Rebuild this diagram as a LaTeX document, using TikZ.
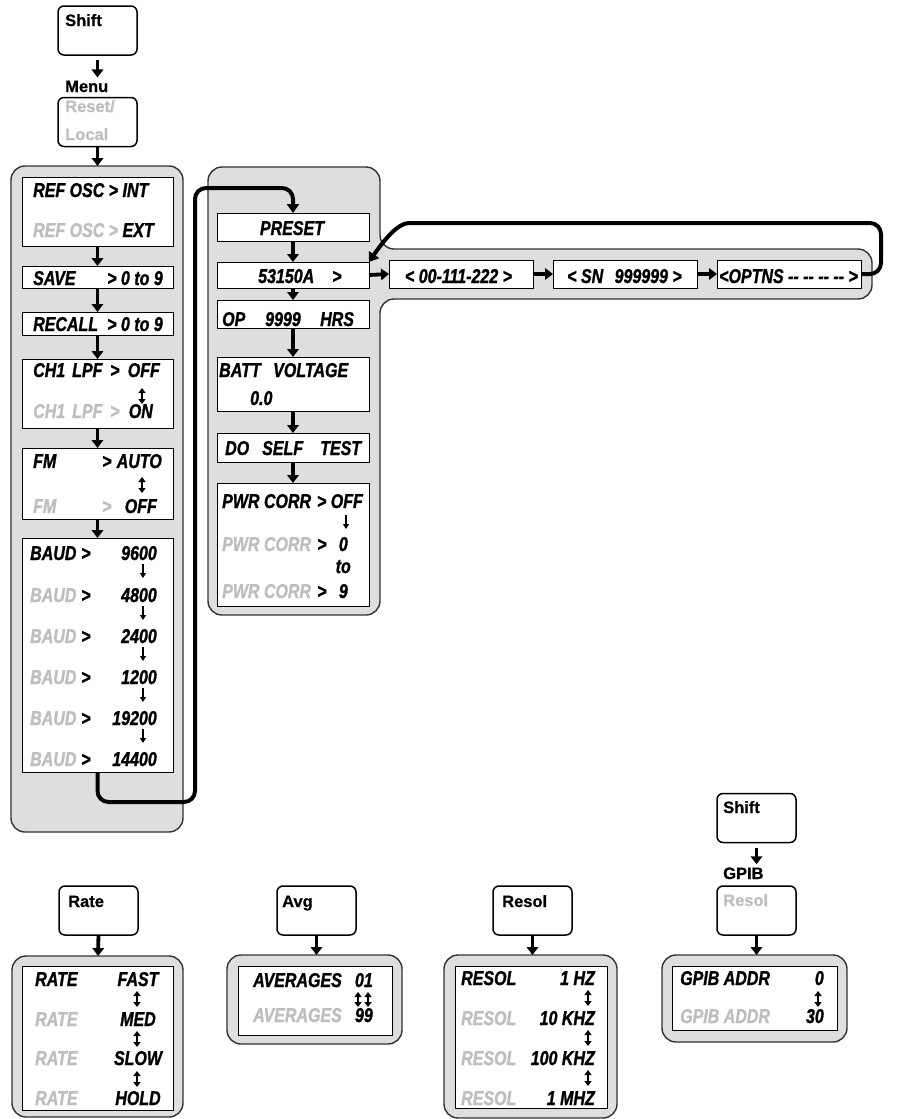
\documentclass[tikz,border=0pt]{standalone}
\usepackage{fontspec}
\setmainfont{Liberation Sans}
\newfontfamily\lcdf[FakeStretch=0.8, FakeBold=1.2]{Liberation Sans}
\newfontfamily\keyf[FakeBold=0.6]{Liberation Sans}
\usetikzlibrary{arrows.meta}
\definecolor{panelgray}{RGB}{221,222,224}
\definecolor{dimtext}{RGB}{190,190,190}
\definecolor{panelline}{RGB}{50,50,50}
\begin{document}
\begin{tikzpicture}[x=1pt,y=-1pt,
  panel/.style={draw=panelline, fill=panelgray, line width=1.4pt, rounded corners=14pt},
  lbox/.style={draw, fill=white, line width=1pt, inner sep=0pt, outer sep=0pt, rectangle},
  keybox/.style={draw, fill=white, line width=1.5pt, rounded corners=6pt, inner sep=0pt, outer sep=0pt, minimum width=79pt, minimum height=49pt},
  lcd/.style={font=\lcdf\bfseries\itshape\fontsize{20}{22}\selectfont, inner sep=0pt},
  dim/.style={lcd, text=dimtext},
  keyt/.style={font=\keyf\bfseries\fontsize{16.5}{18}\selectfont, inner sep=0pt},
  bigarr/.style={line width=3.8pt, -{Triangle[width=11.5pt,length=8pt]}},
  tharr/.style={line width=1.4pt, -{Triangle[width=6pt,length=5pt]}},
  dbarr/.style={line width=1.6pt, {Triangle[width=7pt,length=5pt]}-{Triangle[width=7pt,length=5pt]}},
  loopln/.style={line width=4pt, rounded corners=11pt, -{Triangle[width=12pt,length=9pt]}}
]
\useasboundingbox (0,0) rectangle (910,1119);

% ---------- panels ----------
\draw[panel] (11,166) rectangle (183,832);
\draw[panel] (208,167) -- (380,167) -- (380,249) -- (872,249) -- (872,299) -- (380,299) -- (380,615) -- (208,615) -- cycle;
\draw[panel] (12,956) rectangle (183,1117);
\draw[panel] (227,955) rectangle (402,1044);
\draw[panel] (444,955) rectangle (617,1118);
\draw[panel] (662,955) rectangle (847,1042);

\coordinate (lpTop) at (97.5,166);
\coordinate (rateTop) at (98,956);
\coordinate (avgTop) at (316.5,955);
\coordinate (resolTop) at (532.5,955);
\coordinate (gpibTop) at (756.5,955);

% ---------- key boxes ----------
\node[keybox] (shiftA) at (97.5,30.5) {};
\node[keyt, anchor=base west] (shiftAt) at (65,26) {Shift};
\node[keyt, anchor=base west] (menu) at (65,92) {Menu};
\node[keybox] (resetA) at (97.5,122) {};
\node[keyt, text=dimtext, anchor=base west] (resetAt) at (65,112) {Reset/};
\node[keyt, text=dimtext, anchor=base west] (resetAt2) at (65,140) {Local};

\node[keybox] (rateK) at (98.5,910.5) {};
\node[keyt, anchor=base west] (rateKt) at (68,907) {Rate};
\node[keybox] (avgK) at (316.5,910.5) {};
\node[keyt, anchor=base west] (avgKt) at (282,907) {Avg};
\node[keybox] (resolK) at (532.5,910.5) {};
\node[keyt, anchor=base west] (resolKt) at (502,907) {Resol};
\node[keybox] (shiftB) at (756.5,818) {};
\node[keyt, anchor=base west] (shiftBt) at (723,813) {Shift};
\node[keyt, anchor=base west] (gpibT) at (723,879) {GPIB};
\node[keybox] (resolB) at (756.5,910.5) {};
\node[keyt, text=dimtext, anchor=base west] (resolBt) at (723,906) {Resol};

% ---------- left panel boxes ----------
\node[lbox, minimum width=151pt, minimum height=69pt] (ref) at (97.5,211.5) {};
\node[lbox, minimum width=151pt, minimum height=22pt] (save) at (97.5,277) {};
\node[lbox, minimum width=151pt, minimum height=23pt] (recall) at (97.5,323.5) {};
\node[lbox, minimum width=151pt, minimum height=69pt] (ch1) at (97.5,393.5) {};
\node[lbox, minimum width=151pt, minimum height=71pt] (fm) at (97.5,483.5) {};
\node[lbox, minimum width=151pt, minimum height=234pt] (baud) at (97.5,655) {};

% ---------- right panel boxes ----------
\node[lbox, minimum width=152pt, minimum height=28pt] (preset) at (293,227) {};
\node[lbox, minimum width=152pt, minimum height=26pt] (n53) at (293,275) {};
\node[lbox, minimum width=152pt, minimum height=28pt] (op) at (293,314) {};
\node[lbox, minimum width=152pt, minimum height=54pt] (batt) at (293,384) {};
\node[lbox, minimum width=152pt, minimum height=29pt] (self) at (293,447.5) {};
\node[lbox, minimum width=152pt, minimum height=123pt] (pwr) at (293,544.5) {};
\node[lbox, minimum width=144pt, minimum height=28pt] (b00) at (461,274) {};
\node[lbox, minimum width=144pt, minimum height=28pt] (sn) at (625,274) {};
\node[lbox, minimum width=144pt, minimum height=28pt] (optns) at (789,274) {};

% ---------- bottom inner boxes ----------
\node[lbox, minimum width=151pt, minimum height=144pt] (rate) at (97.5,1038) {};
\node[lbox, minimum width=154pt, minimum height=69pt] (avg) at (315,1000.5) {};
\node[lbox, minimum width=152pt, minimum height=142pt] (resol) at (531,1037) {};
\node[lbox, minimum width=165pt, minimum height=64pt] (gpib) at (754.5,998) {};

% ---------- connectors ----------
\draw[bigarr, shorten <=5pt, shorten >=3pt] (shiftA.south) -- (shiftA.south |- menu.north);
\draw[bigarr] (resetA.south) -- (lpTop);
\draw[bigarr] (ref.south) -- (save.north);
\draw[bigarr] (save.south) -- (recall.north);
\draw[bigarr] (recall.south) -- (ch1.north);
\draw[bigarr] (ch1.south) -- (fm.north);
\draw[bigarr] (fm.south) -- (baud.north);
\draw[bigarr] (preset.south) -- (n53.north);
\draw[bigarr] (n53.south) -- (op.north);
\draw[bigarr] (op.south) -- (batt.north);
\draw[bigarr] (batt.south) -- (self.north);
\draw[bigarr] (self.south) -- (pwr.north);
\draw[bigarr] (n53.east) -- (b00.west);
\draw[bigarr] (b00.east) -- (sn.west);
\draw[bigarr] (sn.east) -- (optns.west);
\draw[bigarr] (rateK.south) -- (rateTop);
\draw[bigarr] (avgK.south) -- (avgTop);
\draw[bigarr] (resolK.south) -- (resolTop);
\draw[bigarr, shorten <=5pt, shorten >=3pt] (shiftB.south) -- (shiftB.south |- gpibT.north);
\draw[bigarr] (resolB.south) -- (gpibTop);

\draw[loopln] (baud.south) -- (97.5,802) -- (195,802) -- (195,188) -- (293,188) -- (preset.north);
\draw[loopln] (optns.east) -- (881,274) -- (881,223) -- (420,223) .. controls (398,223) and (384,240) .. (n53.north east);

% ---------- left panel texts ----------
\node[lcd, anchor=base west] (t1) at (33,197) {REF OSC > INT};
\node[lcd, anchor=base west] (t2) at (33,237) {\textcolor{dimtext}{REF OSC >} EXT};
\node[lcd, anchor=base west] (t3) at (33,285) {SAVE};
\node[lcd, anchor=base east] (t4) at (163,285) {> 0 to 9};
\node[lcd, anchor=base west] (t5) at (33,331) {RECALL};
\node[lcd, anchor=base east] (t6) at (163,331) {> 0 to 9};
\node[lcd, anchor=base west] (t7) at (33,377) {CH1};
\node[lcd, anchor=base west] (t8) at (72,377) {LPF};
\node[lcd, anchor=base west] (t9) at (110,377) {>};
\node[lcd, anchor=base east] (t10) at (160,377) {OFF};
\node[dim, anchor=base west] (t11) at (33,418) {CH1};
\node[dim, anchor=base west] (t12) at (72,418) {LPF};
\node[dim, anchor=base west] (t13) at (110,418) {>};
\node[lcd, anchor=base east] (t14) at (153,418) {ON};
\draw[dbarr] (142,388) -- (142,404);
\node[lcd, anchor=base west] (t15) at (33,468) {FM};
\node[lcd, anchor=base west] (t16) at (102,468) {>};
\node[lcd, anchor=base east] (t17) at (162,468) {AUTO};
\draw[dbarr] (142,477) -- (142,493);
\node[dim, anchor=base west] (t18) at (33,513) {FM};
\node[dim, anchor=base west] (t19) at (102,513) {>};
\node[lcd, anchor=base east] (t20) at (157,513) {OFF};

\node[lcd, anchor=base west] (bl1) at (30,560) {BAUD};
\foreach \i/\y in {2/602,3/643,4/684,5/725,6/766}
  \node[dim, anchor=base west] (bl\i) at (30,\y) {BAUD};
\foreach \i/\y/\v in {1/560/9600,2/602/4800,3/643/2400,4/684/1200,5/725/19200,6/766/14400}{
  \node[lcd, anchor=base west] (bg\i) at (81,\y) {>};
  \node[lcd, anchor=base east] (bv\i) at (157,\y) {\v};
}
\foreach \y in {560,602,643,684,725}
  \draw[tharr] (143,\y+4) -- (143,\y+18);

% ---------- right panel texts ----------
\node[lcd, anchor=base] (p1) at (292,235) {PRESET};
\node[lcd, anchor=base west] (p2) at (258,283) {53150A};
\node[lcd, anchor=base west] (p3) at (332,283) {>};
\node[lcd, anchor=base west] (p4) at (222,326) {OP};
\node[lcd, anchor=base west] (p5) at (265,326) {9999};
\node[lcd, anchor=base west] (p6) at (320,326) {HRS};
\node[lcd, anchor=base west] (p7) at (219,377) {BATT};
\node[lcd, anchor=base west] (p8) at (273,377) {VOLTAGE};
\node[lcd, anchor=base west] (p9) at (250,405) {0.0};
\node[lcd, anchor=base west] (p10) at (225,455) {DO};
\node[lcd, anchor=base west] (p11) at (262,455) {SELF};
\node[lcd, anchor=base west] (p12) at (320,455) {TEST};
\node[lcd, anchor=base west] (p13) at (222,508) {PWR CORR};
\node[lcd, anchor=base east] (p14) at (363,508) {> OFF};
\draw[tharr] (346,515) -- (346,529);
\node[dim, anchor=base west] (p15) at (222,551) {PWR CORR};
\node[lcd, anchor=base west] (p16) at (317,551) {>};
\node[lcd, anchor=base east] (p17) at (348,551) {0};
\node[lcd, anchor=base east] (p18) at (351,573) {to};
\node[dim, anchor=base west] (p19) at (222,598) {PWR CORR};
\node[lcd, anchor=base west] (p20) at (317,598) {>};
\node[lcd, anchor=base east] (p21) at (348,598) {9};

% ---------- strip texts ----------
\node[lcd, anchor=base] (s1) at (458.5,283) {< 00-111-222 >};
\node[lcd, anchor=base west] (s2) at (567,283) {< SN};
\node[lcd, anchor=base east] (s3) at (682,283) {999999 >};
\node[lcd, anchor=base west] (s4) at (719,283) {<OPTNS -{}- -{}- -{}- -{}- >};

% ---------- bottom texts ----------
\node[lcd, anchor=base west] (r1) at (35,986) {RATE};
\node[dim, anchor=base west] (r2) at (35,1026) {RATE};
\node[dim, anchor=base west] (r3) at (35,1065) {RATE};
\node[dim, anchor=base west] (r4) at (35,1105) {RATE};
\node[lcd, anchor=base] (r5) at (138,986) {FAST};
\node[lcd, anchor=base] (r6) at (138,1026) {MED};
\node[lcd, anchor=base] (r7) at (138,1065) {SLOW};
\node[lcd, anchor=base] (r8) at (138,1105) {HOLD};
\foreach \y in {991,1031,1071} \draw[dbarr] (137,\y) -- (137,\y+16);

\node[lcd, anchor=base west] (a1) at (253,987) {AVERAGES};
\node[lcd, anchor=base east] (a2) at (373,987) {01};
\node[dim, anchor=base west] (a3) at (253,1022) {AVERAGES};
\node[lcd, anchor=base east] (a4) at (373,1022) {99};
\draw[dbarr] (358,992) -- (358,1007);
\draw[dbarr] (368,992) -- (368,1007);

\node[lcd, anchor=base west] (e1) at (461,985) {RESOL};
\node[dim, anchor=base west] (e2) at (461,1025) {RESOL};
\node[dim, anchor=base west] (e3) at (461,1065) {RESOL};
\node[dim, anchor=base west] (e4) at (461,1105) {RESOL};
\node[lcd, anchor=base east] (e5) at (595,985) {1 HZ};
\node[lcd, anchor=base east] (e6) at (595,1025) {10 KHZ};
\node[lcd, anchor=base east] (e7) at (595,1065) {100 KHZ};
\node[lcd, anchor=base east] (e8) at (595,1105) {1 MHZ};
\foreach \y in {990,1030,1070} \draw[dbarr] (588,\y) -- (588,\y+16);

\node[lcd, anchor=base west] (g1) at (680,985) {GPIB ADDR};
\node[lcd, anchor=base east] (g2) at (824,985) {0};
\node[dim, anchor=base west] (g3) at (680,1023) {GPIB ADDR};
\node[lcd, anchor=base east] (g4) at (824,1023) {30};
\draw[dbarr] (818,991) -- (818,1007);
\end{tikzpicture}
\end{document}
